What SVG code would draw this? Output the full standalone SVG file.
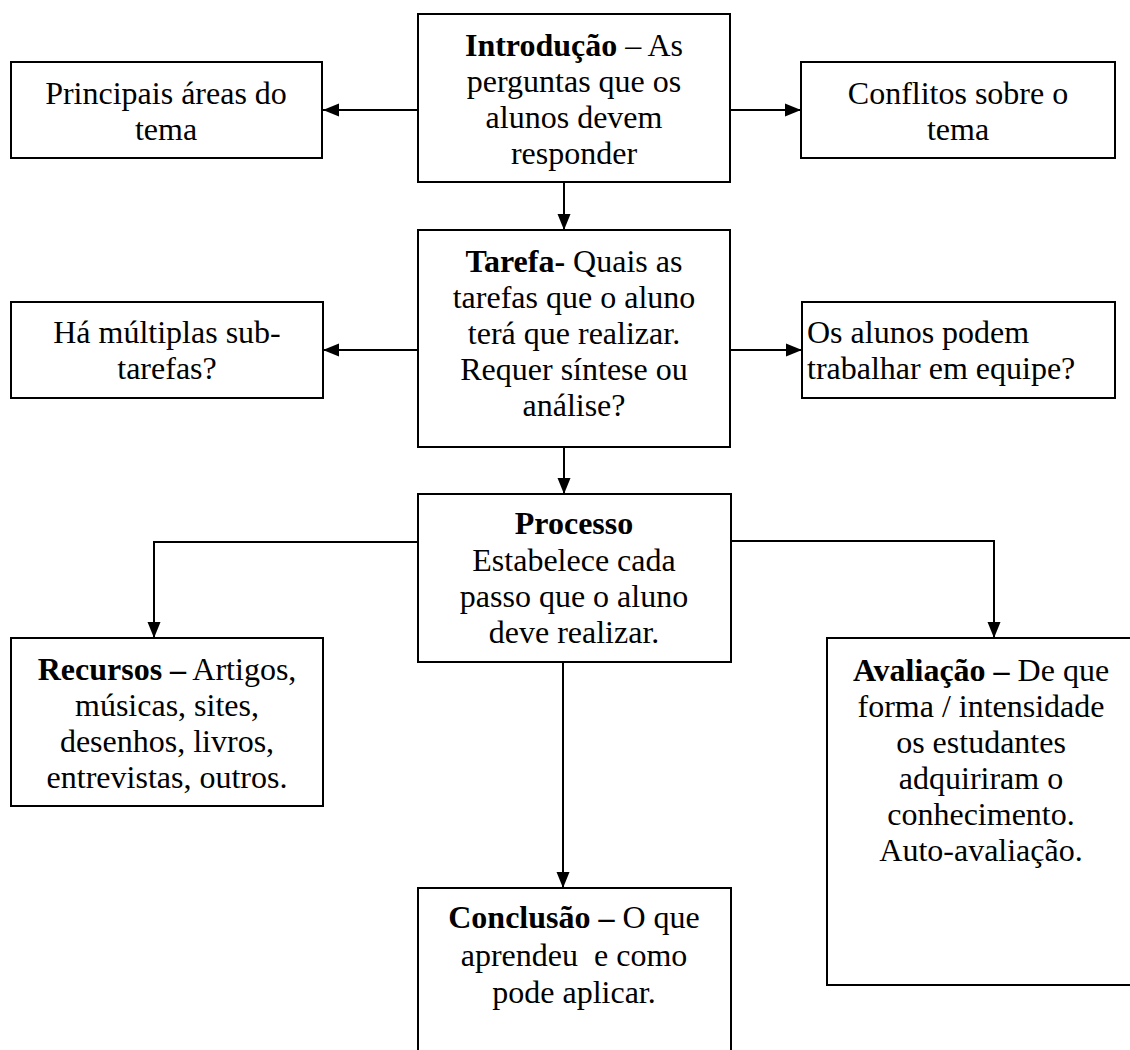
<svg xmlns="http://www.w3.org/2000/svg" width="1130" height="1050" viewBox="0 0 1130 1050">
<style>
.box{fill:#fff;stroke:#000;stroke-width:2}
.t{font-family:"Liberation Serif","Times New Roman",serif;font-size:32px;fill:#000;text-anchor:middle}
.l{text-anchor:start}
.b{font-weight:bold}
.c{fill:none;stroke:#000;stroke-width:2}
</style>
<defs>
<marker id="ah" markerUnits="userSpaceOnUse" markerWidth="16" markerHeight="14" refX="16" refY="7" orient="auto">
<path d="M0,0.5 L16,7 L0,13.5 z" fill="#000"/>
</marker>
</defs>
<g id="connectors">
<path class="c" d="M418,110 H323" marker-end="url(#ah)"/>
<path class="c" d="M730,110 H801" marker-end="url(#ah)"/>
<path class="c" d="M564,182 V230" marker-end="url(#ah)"/>
<path class="c" d="M418,350 H323" marker-end="url(#ah)"/>
<path class="c" d="M730,350 H802" marker-end="url(#ah)"/>
<path class="c" d="M564,447 V494" marker-end="url(#ah)"/>
<path class="c" d="M418,542 H154 V638" marker-end="url(#ah)"/>
<path class="c" d="M731,541 H994 V638" marker-end="url(#ah)"/>
<path class="c" d="M563,649 V888" marker-end="url(#ah)"/>
</g>
<g id="introducao">
<rect class="box" x="418" y="14" width="312" height="168"/>
<text class="t" x="574" y="56"><tspan class="b">Introdução</tspan> – As</text>
<text class="t" x="574" y="92">perguntas que os</text>
<text class="t" x="574" y="128">alunos devem</text>
<text class="t" x="574" y="164">responder</text>
</g>
<g id="principais">
<rect class="box" x="11" y="62" width="311" height="96"/>
<text class="t" x="166" y="104">Principais áreas do</text>
<text class="t" x="166" y="140">tema</text>
</g>
<g id="conflitos">
<rect class="box" x="801" y="62" width="314" height="96"/>
<text class="t" x="958" y="104">Conflitos sobre o</text>
<text class="t" x="958" y="140">tema</text>
</g>
<g id="tarefa">
<rect class="box" x="418" y="230" width="312" height="217"/>
<text class="t" x="574" y="272"><tspan class="b">Tarefa-</tspan> Quais as</text>
<text class="t" x="574" y="308">tarefas que o aluno</text>
<text class="t" x="574" y="344">terá que realizar.</text>
<text class="t" x="574" y="380">Requer síntese ou</text>
<text class="t" x="574" y="416">análise?</text>
</g>
<g id="multiplas">
<rect class="box" x="11" y="302" width="312" height="96"/>
<text class="t" x="167" y="343">Há múltiplas sub-</text>
<text class="t" x="167" y="379">tarefas?</text>
</g>
<g id="equipe">
<rect class="box" x="802" y="302" width="313" height="96"/>
<text class="t l" x="807" y="343">Os alunos podem</text>
<text class="t l" x="807" y="379">trabalhar em equipe?</text>
</g>
<g id="processo">
<rect class="box" x="418" y="494" width="313" height="168"/>
<text class="t b" x="574" y="534">Processo</text>
<text class="t" x="574" y="571">Estabelece cada</text>
<text class="t" x="574" y="607">passo que o aluno</text>
<text class="t" x="574" y="643">deve realizar.</text>
</g>
<g id="recursos">
<rect class="box" x="11" y="638" width="312" height="168"/>
<text class="t" x="167" y="680"><tspan class="b">Recursos –</tspan> Artigos,</text>
<text class="t" x="167" y="716">músicas, sites,</text>
<text class="t" x="167" y="752">desenhos, livros,</text>
<text class="t" x="167" y="788">entrevistas, outros.</text>
</g>
<g id="avaliacao">
<rect class="box" x="827" y="638" width="310" height="347"/>
<text class="t" x="981" y="681"><tspan class="b">Avaliação –</tspan> De que</text>
<text class="t" x="981" y="717">forma / intensidade</text>
<text class="t" x="981" y="753">os estudantes</text>
<text class="t" x="981" y="789">adquiriram o</text>
<text class="t" x="981" y="825">conhecimento.</text>
<text class="t" x="981" y="861">Auto-avaliação.</text>
</g>
<g id="conclusao">
<rect class="box" x="418" y="888" width="313" height="180"/>
<text class="t" x="574" y="928" xml:space="preserve"><tspan class="b">Conclusão –</tspan> O que</text>
<text class="t" x="574" y="966" xml:space="preserve">aprendeu  e como</text>
<text class="t" x="574" y="1003">pode aplicar.</text>
</g>
</svg>
